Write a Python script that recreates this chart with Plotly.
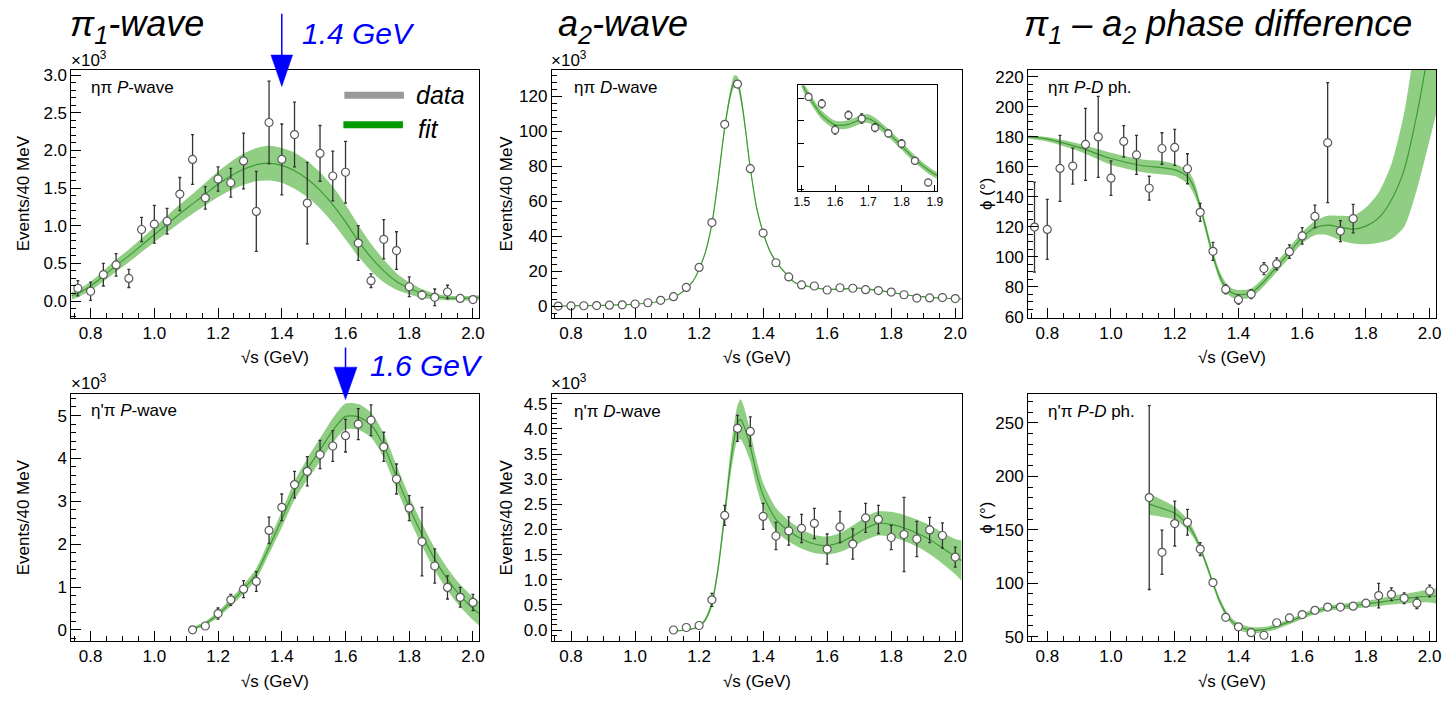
import plotly.graph_objects as go

# ------------------------------------------------------------------ data
BINS_ETA = [0.76, 0.80, 0.84, 0.88, 0.92, 0.96, 1.00, 1.04, 1.08, 1.12, 1.16, 1.20, 1.24, 1.28, 1.32, 1.36,
            1.40, 1.44, 1.48, 1.52, 1.56, 1.60, 1.64, 1.68, 1.72, 1.76, 1.80, 1.84, 1.88, 1.92, 1.96, 2.00]
BINS_PHASE_ETA = [0.76, 0.80, 0.84, 0.88, 0.92, 0.96, 1.00, 1.04, 1.08, 1.12, 1.16, 1.20, 1.24, 1.28, 1.32,
                  1.36, 1.40, 1.44, 1.48, 1.52, 1.56, 1.60, 1.64, 1.68, 1.72, 1.76]
BINS_ETAP = [1.12, 1.16, 1.20, 1.24, 1.28, 1.32, 1.36, 1.40, 1.44, 1.48, 1.52, 1.56, 1.60, 1.64, 1.68, 1.72,
             1.76, 1.80, 1.84, 1.88, 1.92, 1.96, 2.00]

# eta pi P-wave (x10^3 events / 40 MeV)
ETA_PI_P = [0.17, 0.13, 0.35, 0.48, 0.30, 0.95, 1.02, 1.06, 1.42, 1.88, 1.37, 1.62, 1.57, 1.86, 1.19, 2.37,
            1.88, 2.21, 1.30, 1.96, 1.66, 1.71, 0.77, 0.27, 0.82, 0.67, 0.19, 0.08, 0.05, 0.12, 0.035, 0.02]
ETA_PI_P_ERR = [0.10, 0.12, 0.15, 0.15, 0.12, 0.16, 0.25, 0.17, 0.22, 0.33, 0.15, 0.16, 0.19, 0.37, 0.53, 0.55,
                0.47, 0.43, 0.54, 0.37, 0.33, 0.41, 0.23, 0.09, 0.26, 0.25, 0.13, 0.05, 0.11, 0.09, 0.02, 0.02]
FIT1_X = [0.74, 0.76, 0.80, 0.84, 0.88, 0.92, 0.96, 1.00, 1.04, 1.08, 1.12, 1.16, 1.20, 1.24, 1.28, 1.32, 1.36,
          1.40, 1.44, 1.48, 1.52, 1.56, 1.60, 1.64, 1.68, 1.72, 1.76, 1.80, 1.84, 1.88, 1.92, 1.96, 2.00, 2.02]
FIT1_C = [0.07, 0.10, 0.20, 0.33, 0.47, 0.60, 0.74, 0.88, 1.02, 1.16, 1.29, 1.42, 1.55, 1.66, 1.75, 1.81, 1.83,
          1.80, 1.73, 1.62, 1.47, 1.28, 1.05, 0.80, 0.58, 0.40, 0.26, 0.17, 0.10, 0.06, 0.04, 0.035, 0.04, 0.05]
FIT1_HW = [0.05, 0.05, 0.06, 0.07, 0.08, 0.085, 0.09, 0.10, 0.11, 0.12, 0.13, 0.15, 0.17, 0.19, 0.21, 0.22, 0.23,
           0.23, 0.24, 0.24, 0.24, 0.24, 0.23, 0.21, 0.18, 0.15, 0.11, 0.08, 0.06, 0.04, 0.03, 0.03, 0.03, 0.03]

# eta pi D-wave (x10^3)
ETA_PI_D = [0.0, 0.1, 0.2, 0.3, 0.5, 0.7, 1.2, 1.9, 3.3, 5.4, 10.7, 22.1, 47.8, 104, 127, 78.6,
            41.8, 24.8, 16.7, 12.1, 11.5, 9.2, 10.5, 10.2, 9.4, 8.9, 8.0, 6.5, 4.6, 4.7, 4.9, 4.3]
ETA_PI_D_ERR = [0.05, 0.05, 0.05, 0.05, 0.05, 0.05, 0.08, 0.1, 0.15, 0.2, 0.3, 0.5, 0.8, 1.2, 1.5, 1.1,
                0.8, 0.5, 0.4, 0.3, 0.35, 0.35, 0.35, 0.4, 0.35, 0.3, 0.35, 0.3, 0.3, 0.3, 0.3, 0.3]
FIT2_X = [0.74, 0.80, 0.90, 1.00, 1.06, 1.10, 1.14, 1.18, 1.20, 1.22, 1.24, 1.26, 1.28, 1.30, 1.31, 1.32, 1.33,
          1.34, 1.36, 1.38, 1.40, 1.42, 1.44, 1.48, 1.50, 1.52, 1.56, 1.60, 1.64, 1.68, 1.70, 1.72, 1.76, 1.80,
          1.84, 1.88, 1.92, 1.96, 2.00, 2.02]
FIT2_C = [0.0, 0.15, 0.45, 1.1, 2.2, 3.8, 7.0, 14.0, 21.0, 31.0, 47.0, 73.0, 102.0, 123.0, 128.5, 128.0, 120.0,
          108.0, 79.0, 56.0, 42.0, 32.0, 25.5, 16.8, 13.3, 12.2, 10.5, 9.65, 9.7, 10.15, 10.2, 9.9, 8.95, 7.8,
          6.65, 5.7, 5.0, 4.5, 4.2, 4.1]
FIT2_HW = [0.02, 0.02, 0.03, 0.05, 0.07, 0.1, 0.15, 0.3, 0.45, 0.7, 1.0, 1.5, 2.2, 3.0, 3.5, 3.5, 3.0,
           2.5, 1.8, 1.2, 0.9, 0.7, 0.6, 0.45, 0.4, 0.4, 0.38, 0.36, 0.36, 0.38, 0.38, 0.38, 0.36, 0.34,
           0.32, 0.3, 0.28, 0.26, 0.25, 0.25]

# eta pi P-D phase (deg)
ETA_PI_PH = [119.9, 118.3, 159.0, 160.6, 175.0, 180.0, 152.5, 177.0, 168.0, 145.8, 172.3, 173.0, 158.8,
             129.7, 103.7, 78.3, 71.5, 75.2, 92.2, 95.3, 103.5, 114.0, 127.0, 176.2, 117.2, 125.5]
ETA_PI_PH_ERR = [30, 20, 22, 12, 24, 27, 11.5, 10.5, 13, 8, 10.5, 12, 10, 6, 6, 3, 3, 3, 4, 4, 4.5, 5.5,
                 7.5, 40, 7, 9.5]
FIT3_X = [0.74, 0.80, 0.90, 1.00, 1.10, 1.16, 1.20, 1.24, 1.26, 1.28, 1.30, 1.32, 1.34, 1.36, 1.38, 1.40,
          1.44, 1.48, 1.52, 1.56, 1.60, 1.64, 1.68, 1.72, 1.76, 1.80, 1.84, 1.88, 1.92, 1.96, 2.00, 2.02]
FIT3_C = [180, 178.6, 173, 165.6, 160.8, 159.5, 158, 153.6, 146.6, 133.6, 117.2, 100.9, 87.9, 79.6, 76, 74.8,
          76, 83.5, 93.3, 103, 112.9, 119.4, 121.2, 119.8, 118.5, 120.5, 126, 138, 158, 195, 242, 268]
FIT3_LO = [179, 177, 170.5, 161.5, 156.5, 155, 154, 149, 142, 130.5, 114, 98, 85, 76.5, 73, 72,
           73, 80.5, 90, 99.5, 109, 114.5, 114.5, 111, 109, 108.5, 109.5, 112, 120, 145, 178, 195]
FIT3_HI = [181, 180, 175.5, 169.5, 165, 164, 162, 158, 151, 136.5, 120.5, 104, 91, 83, 79, 78,
           79, 86.5, 96.5, 106.5, 116.5, 124, 127.5, 127.5, 127.5, 133, 143, 162, 196, 250, 300, 330]

# eta' pi P-wave (x10^3)
ETAP_PI_P = [0.0, 0.09, 0.38, 0.70, 0.95, 1.13, 2.32, 2.86, 3.39, 3.70, 4.09, 4.29, 4.53, 4.80, 4.89, 4.27,
             3.52, 2.84, 2.06, 1.49, 0.99, 0.76, 0.64]
ETAP_PI_P_ERR = [0.03, 0.04, 0.13, 0.13, 0.2, 0.23, 0.31, 0.31, 0.31, 0.34, 0.33, 0.36, 0.38, 0.36, 0.36, 0.34,
                 0.35, 0.29, 0.8, 0.4, 0.27, 0.23, 0.19]
FIT4_X = [1.12, 1.16, 1.20, 1.24, 1.28, 1.32, 1.36, 1.40, 1.44, 1.48, 1.52, 1.56, 1.60, 1.64, 1.68, 1.72,
          1.76, 1.80, 1.84, 1.88, 1.92, 1.96, 2.00, 2.02]
FIT4_C = [0.02, 0.15, 0.36, 0.64, 0.95, 1.31, 1.93, 2.58, 3.25, 3.75, 4.2, 4.65, 4.98, 4.97, 4.78, 4.30,
          3.57, 2.86, 2.22, 1.65, 1.18, 0.80, 0.50, 0.38]
FIT4_HW = [0.04, 0.05, 0.07, 0.09, 0.11, 0.13, 0.16, 0.19, 0.22, 0.25, 0.27, 0.29, 0.30, 0.30, 0.29, 0.28,
           0.27, 0.26, 0.26, 0.26, 0.26, 0.26, 0.27, 0.28]

# eta' pi D-wave (x10^3)
ETAP_PI_D = [0.0, 0.05, 0.09, 0.60, 2.28, 4.01, 3.95, 2.26, 1.87, 1.97, 2.02, 2.12, 1.61, 2.05, 1.71, 2.23,
             2.20, 1.84, 1.90, 1.81, 1.99, 1.88, 1.45]
ETAP_PI_D_ERR = [0.02, 0.03, 0.05, 0.13, 0.2, 0.26, 0.29, 0.26, 0.27, 0.28, 0.28, 0.3, 0.3, 0.31, 0.3, 0.29,
                 0.28, 0.24, 0.74, 0.35, 0.25, 0.25, 0.2]
FIT5_X = [1.12, 1.16, 1.20, 1.22, 1.24, 1.26, 1.28, 1.30, 1.32, 1.33, 1.34, 1.36, 1.38, 1.40, 1.44, 1.48,
          1.52, 1.56, 1.60, 1.64, 1.68, 1.72, 1.76, 1.80, 1.84, 1.88, 1.92, 1.96, 2.00, 2.02]
FIT5_C = [-0.02, 0.0, 0.07, 0.21, 0.53, 1.25, 2.3, 3.4, 4.12, 4.19, 4.06, 3.65, 3.1, 2.68, 2.2, 1.97,
          1.81, 1.71, 1.68, 1.74, 1.87, 2.02, 2.12, 2.10, 2.03, 1.93, 1.80, 1.63, 1.46, 1.38]
FIT5_HW = [0.01, 0.01, 0.02, 0.04, 0.07, 0.1, 0.15, 0.25, 0.35, 0.4, 0.38, 0.3, 0.27, 0.25, 0.23, 0.21,
           0.19, 0.18, 0.18, 0.19, 0.21, 0.23, 0.24, 0.25, 0.26, 0.27, 0.29, 0.31, 0.35, 0.4]

# eta' pi P-D phase (deg)
ETAP_PI_PH = [180.1, 128.9, 155.8, 157.0, 131.9, 100.6, 68.1, 59.2, 53.7, 51.3, 63.0, 67.5, 70.6, 74.6, 77.6,
              77.6, 78.5, 81.3, 88.4, 89.6, 85.9, 81.3, 92.7]
ETAP_PI_PH_ERR = [86, 20.7, 21, 12, 6, 3.5, 2, 2, 2, 2, 2, 2, 2, 2, 2, 2, 2, 2.5, 11.5, 6, 5, 5, 5.5]
FIT6_X = [1.12, 1.16, 1.20, 1.24, 1.26, 1.28, 1.30, 1.32, 1.34, 1.36, 1.38, 1.40, 1.44, 1.48, 1.52, 1.56,
          1.60, 1.64, 1.68, 1.72, 1.76, 1.80, 1.84, 1.88, 1.92, 1.96, 2.00, 2.02]
FIT6_C = [174, 170, 165.5, 155, 146, 133, 117, 100, 84, 72, 64, 59.5, 56, 56.5, 59.5, 64, 69, 73.5, 76.5, 78,
          79, 80.5, 82, 84, 85.5, 87, 88, 88]
FIT6_HW = [10, 8, 6, 5, 4, 3, 3, 3, 3, 3, 3, 3, 3, 2.5, 2.5, 2.5, 2.5, 2.5, 2.5, 2.5, 3, 3, 3.5, 4, 4.5, 5,
           6, 7]

ARROW_MASSES = [1.4, 1.6]  # GeV, marked resonance positions
COLUMN_TITLES = ["<i>π<sub>1</sub>-wave</i>", "<i>a<sub>2</sub>-wave</i>",
                 "<i>π<sub>1</sub> – a<sub>2</sub> phase difference</i>"]
PANEL_LABELS = ["ηπ <i>P</i>-wave", "ηπ <i>D</i>-wave", "ηπ <i>P-D</i> ph.",
                "η'π <i>P</i>-wave", "η'π <i>D</i>-wave", "η'π <i>P-D</i> ph."]

# ------------------------------------------------------------------ style / layout helpers
W, H = 1445, 707
FONT = "Liberation Sans, Arial, Helvetica, sans-serif"
BAND = "rgba(125,198,110,0.85)"
LINE = "#3f9a34"
MK_LINE = "#5a5a5a"
ERR = "#333333"

COLS = [(68, 479), (552, 965), (1032, 1443)]
ROWS = [(67, 319.5), (397, 648.5)]


def px(xp):
    return xp / W


def py(yp):
    return 1 - yp / H


def refs(k):
    return ("x" if k == 1 else f"x{k}", "y" if k == 1 else f"y{k}")


fig = go.Figure()


def add_fit(k, fx, lo, hi, c, lw=1.2):
    xr, yr = refs(k)
    sh = dict(shape="spline", smoothing=0.7)
    fig.add_trace(go.Scatter(x=fx, y=lo, mode="lines", line=dict(width=0, **sh), xaxis=xr, yaxis=yr,
                             showlegend=False, hoverinfo="skip"))
    fig.add_trace(go.Scatter(x=fx, y=hi, mode="lines", line=dict(width=0, **sh), fill="tonexty",
                             fillcolor=BAND, xaxis=xr, yaxis=yr, showlegend=False, hoverinfo="skip"))
    fig.add_trace(go.Scatter(x=fx, y=c, mode="lines", line=dict(color=LINE, width=lw, **sh), xaxis=xr,
                             yaxis=yr, showlegend=False, hoverinfo="skip"))


def add_data(k, x, y, e, size=8):
    xr, yr = refs(k)
    fig.add_trace(go.Scatter(x=x, y=y, mode="markers", xaxis=xr, yaxis=yr, showlegend=False,
                             marker=dict(symbol="circle", size=size, color="white",
                                         line=dict(color=MK_LINE, width=1.2)),
                             error_y=dict(type="data", array=e, color=ERR, thickness=1.3, width=1.5)))


def lohi(c, hw):
    return [a - b for a, b in zip(c, hw)], [a + b for a, b in zip(c, hw)]


panels = [
    (1, BINS_ETA, ETA_PI_P, ETA_PI_P_ERR, FIT1_X, *lohi(FIT1_C, FIT1_HW), FIT1_C),
    (2, BINS_ETA, ETA_PI_D, ETA_PI_D_ERR, FIT2_X, *lohi(FIT2_C, FIT2_HW), FIT2_C),
    (3, BINS_PHASE_ETA, ETA_PI_PH, ETA_PI_PH_ERR, FIT3_X, FIT3_LO, FIT3_HI, FIT3_C),
    (4, BINS_ETAP, ETAP_PI_P, ETAP_PI_P_ERR, FIT4_X, *lohi(FIT4_C, FIT4_HW), FIT4_C),
    (5, BINS_ETAP, ETAP_PI_D, ETAP_PI_D_ERR, FIT5_X, *lohi(FIT5_C, FIT5_HW), FIT5_C),
    (6, BINS_ETAP, ETAP_PI_PH, ETAP_PI_PH_ERR, FIT6_X, *lohi(FIT6_C, FIT6_HW), FIT6_C),
]
for k, dx, dy, de, fx, lo, hi, c in panels:
    add_fit(k, fx, lo, hi, c)
    add_data(k, dx, dy, de)

# inset (panel 7) : zoom of the eta pi D-wave tail
lo2, hi2 = lohi(FIT2_C, FIT2_HW)
add_fit(7, FIT2_X, lo2, hi2, FIT2_C, lw=1.2)
add_data(7, BINS_ETA, ETA_PI_D, ETA_PI_D_ERR, size=7)

YSPEC = {
    1: dict(range=[-0.22, 3.07], dtick=0.5, fmt=".1f", minor=0.1),
    2: dict(range=[-6.6, 135.2], dtick=20, fmt="d", minor=4),
    3: dict(range=[59.5, 224.8], dtick=20, fmt="d", minor=5),
    4: dict(range=[-0.25, 5.51], dtick=1, fmt="d", minor=0.2),
    5: dict(range=[-0.21, 4.70], dtick=0.5, fmt=".1f", minor=0.1),
    6: dict(range=[46.3, 277.3], dtick=50, fmt="d", minor=10),
}

base_axis = dict(showline=True, linecolor="black", linewidth=1, mirror=True, ticks="inside", ticklen=10,
                 tickcolor="black", tickwidth=1, showgrid=False, zeroline=False,
                 tickfont=dict(family=FONT, size=17, color="black"))

layout_axes = {}
for k in range(1, 7):
    r, cidx = (k - 1) // 3, (k - 1) % 3
    l, rr = COLS[cidx]
    t, b = ROWS[r]
    xr, yr = refs(k)
    xname = "xaxis" if k == 1 else f"xaxis{k}"
    yname = "yaxis" if k == 1 else f"yaxis{k}"
    layout_axes[xname] = dict(base_axis, domain=[px(l), px(rr)], anchor=yr, range=[0.74, 2.02], tick0=0.8,
                              dtick=0.2, tickformat=".1f",
                              minor=dict(ticks="inside", ticklen=5, tickcolor="black", dtick=0.05, tick0=0.8,
                                         showgrid=False))
    s = YSPEC[k]
    layout_axes[yname] = dict(base_axis, domain=[py(b), py(t)], anchor=xr, range=s["range"], tick0=0,
                              dtick=s["dtick"], tickformat=s["fmt"],
                              minor=dict(ticks="inside", ticklen=5, tickcolor="black", dtick=s["minor"],
                                         tick0=0, showgrid=False))

# inset axes
layout_axes["xaxis7"] = dict(base_axis, domain=[px(800), px(940)], anchor="y7", range=[1.488, 1.906],
                             tick0=1.5, dtick=0.1, tickformat=".1f", ticklen=6,
                             tickfont=dict(family=FONT, size=12, color="black"))
layout_axes["yaxis7"] = dict(base_axis, domain=[py(190), py(83)], anchor="x7", range=[3.9, 13.1], tick0=0,
                             dtick=2, showticklabels=False, ticklen=6)

fig.update_layout(**layout_axes)

# ------------------------------------------------------------------ annotations
ann = []
col_title_x = [64, 556, 1026]
for xt, txt in zip(col_title_x, COLUMN_TITLES):
    ann.append(dict(text=txt, x=px(xt), y=py(22), xref="paper", yref="paper", xanchor="left", yanchor="middle",
                    showarrow=False, font=dict(family=FONT, size=36, color="black")))

label_pos = [(86, 85), (572, 85), (1050, 85), (86, 414), (572, 415), (1050, 415)]
for (xl, yl), txt in zip(label_pos, PANEL_LABELS):
    ann.append(dict(text=txt, x=px(xl), y=py(yl), xref="paper", yref="paper", xanchor="left",
                    yanchor="middle", showarrow=False, font=dict(family=FONT, size=17, color="black")))

for xl, yl in [(65, 69), (549, 69), (65, 398), (549, 398)]:
    ann.append(dict(text="×10<sup>3</sup>", x=px(xl), y=py(yl), xref="paper", yref="paper", xanchor="left",
                    yanchor="bottom", showarrow=False, font=dict(family=FONT, size=17, color="black")))

for ci, (l, r) in enumerate(COLS):
    for yl in (360, 690):
        ann.append(dict(text="√s (GeV)", x=px((l + r) / 2), y=py(yl), xref="paper", yref="paper",
                        xanchor="center", yanchor="middle", showarrow=False,
                        font=dict(family=FONT, size=17, color="black")))

for xl, txt in [(20, "Events/40 MeV"), (506, "Events/40 MeV"), (990, "ϕ (°)")]:
    for yl in (193, 523):
        ann.append(dict(text=txt, x=px(xl), y=py(yl), xref="paper", yref="paper", xanchor="center",
                        yanchor="middle", textangle=-90, showarrow=False,
                        font=dict(family=FONT, size=17, color="black")))

# legend (data / fit) in first panel
ann.append(dict(text="<i>data</i>", x=px(413), y=py(93), xref="paper", yref="paper", xanchor="left",
                yanchor="middle", showarrow=False, font=dict(family=FONT, size=25, color="black")))
ann.append(dict(text="<i>fit</i>", x=px(415), y=py(127), xref="paper", yref="paper", xanchor="left",
                yanchor="middle", showarrow=False, font=dict(family=FONT, size=25, color="black")))

# arrow labels
arrow_geo = [  # (panel xref, line top px, triangle top px, tip px, half width GeV, label x px, label y px)
    ("x", 10, 52, 84, 0.034, 298, 30),
    ("x4", 350, 370, 403, 0.036, 367, 368),
]
shapes = []
for m, (xr, ytop, ytri, ytip, hw, lx, ly) in zip(ARROW_MASSES, arrow_geo):
    shapes.append(dict(type="line", xref=xr, yref="paper", x0=m, x1=m, y0=py(ytop), y1=py(ytri + 2),
                       line=dict(color="blue", width=1.5)))
    shapes.append(dict(type="path", xref=xr, yref="paper",
                       path=f"M {m - hw},{py(ytri)} L {m + hw},{py(ytri)} L {m},{py(ytip)} Z",
                       fillcolor="blue", line=dict(color="blue", width=0.5)))
    ann.append(dict(text=f"<i>{m:.1f} GeV</i>", x=px(lx), y=py(ly), xref="paper", yref="paper",
                    xanchor="left", yanchor="middle", showarrow=False,
                    font=dict(family=FONT, size=30, color="blue")))

# legend bars
shapes.append(dict(type="line", xref="paper", yref="paper", x0=px(343), x1=px(403), y0=py(93), y1=py(93),
                   line=dict(color="#999999", width=7)))
shapes.append(dict(type="line", xref="paper", yref="paper", x0=px(342), x1=px(402), y0=py(123), y1=py(123),
                   line=dict(color="#009a00", width=7)))

fig.update_layout(
    width=W, height=H, margin=dict(l=0, r=0, t=0, b=0),
    paper_bgcolor="white", plot_bgcolor="white",
    annotations=ann, shapes=shapes, showlegend=False,
    font=dict(family=FONT, color="black"),
)

fig.write_html("out.html")
